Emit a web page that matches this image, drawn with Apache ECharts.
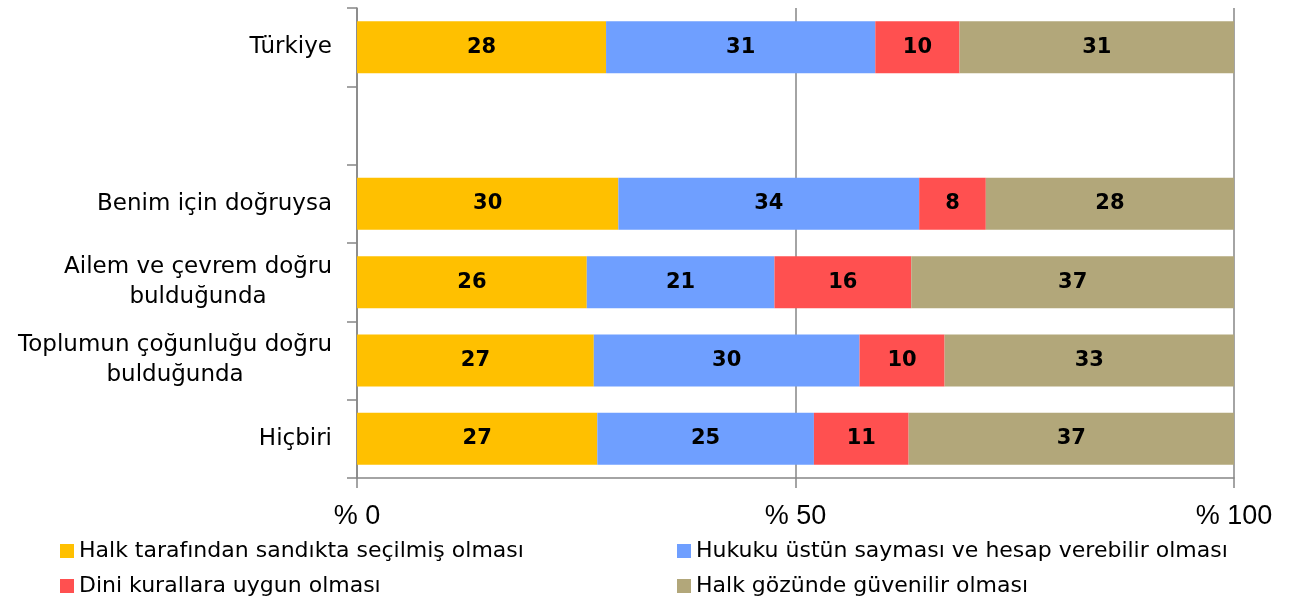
<!DOCTYPE html>
<html>
<head>
<meta charset="utf-8">
<script src="https://cdn.jsdelivr.net/npm/echarts@6/dist/echarts.min.js"></script>
<style>
  html, body { margin: 0; padding: 0; background: #fff; }
  #chart { width: 1292px; height: 601px; }
</style>
</head>
<body>
<div id="chart"></div>
<script>
// kategoriler (yukarıdan aşağıya), ikinci satır boş
const categories = ['Türkiye', '', 'Benim için doğruysa', 'Ailem ve çevrem doğru\nbulduğunda', 'Toplumun çoğunluğu doğru\nbulduğunda', 'Hiçbiri'];
const seriesNames = [
  'Halk tarafından sandıkta seçilmiş olması',
  'Hukuku üstün sayması ve hesap verebilir olması',
  'Dini kurallara uygun olması',
  'Halk gözünde güvenilir olması'
];
const secilmis = [28.4, null, 29.8, 26.2, 27.0, 27.4];
const hukuk    = [30.7, null, 34.3, 21.4, 30.3, 24.7];
const dini     = [9.6,  null, 7.6,  15.6, 9.7,  10.8];
const guven    = [31.3, null, 28.3, 36.8, 33.0, 37.1];
const xTicks = [0, 50, 100];

const colors = ['#FFC000', '#6F9FFF', '#FF5050', '#B2A77A'];
const font = '"DejaVu Sans", sans-serif';
const axisFont = '"Liberation Sans", Arial, sans-serif';

const chart = echarts.init(document.getElementById('chart'));

const mkSeries = (name, data, i) => ({
  name,
  type: 'bar',
  stack: 'total',
  data,
  barWidth: 52,
  itemStyle: { color: colors[i] },
  label: {
    show: true,
    position: 'inside',
    color: '#000',
    fontFamily: font,
    fontWeight: 'bold',
    fontSize: 21,
    formatter: p => p.value == null ? '' : Math.round(p.value)
  }
});

// lejant: 2 sütun, her öğe ayrı konumda
const legendPos = [[55, 535], [672, 535], [55, 570], [672, 570]];
const legends = legendPos.map((pos, i) => ({
  data: [seriesNames[i]],
  left: pos[0], top: pos[1],
  itemWidth: 14, itemHeight: 14, icon: 'rect',
  textStyle: { fontFamily: font, fontSize: 22, color: '#000' }
}));

chart.setOption({
  animation: false,
  grid: { left: 357, right: 58, top: 8, bottom: 123 },
  legend: legends,
  xAxis: {
    type: 'value',
    min: xTicks[0], max: xTicks[xTicks.length - 1], interval: 50,
    axisLine: { show: true, lineStyle: { color: '#868686', width: 1.5 } },
    axisTick: { show: true, length: 10, lineStyle: { color: '#868686', width: 1.5 } },
    splitLine: { show: true, lineStyle: { color: '#868686', width: 1.5 } },
    axisLabel: {
      formatter: v => '% ' + v, margin: 25,
      fontFamily: axisFont, fontSize: 27, color: '#000'
    }
  },
  yAxis: {
    type: 'category',
    inverse: true,
    data: categories,
    axisLine: { show: true, lineStyle: { color: '#868686', width: 1.5 } },
    axisTick: { show: true, length: 10, lineStyle: { color: '#868686', width: 1.5 } },
    axisLabel: {
      margin: 25, align: 'right',
      fontFamily: font, fontSize: 23, color: '#000', lineHeight: 30,
      formatter: v => v.split('\n').map(s => '{c|' + s + '}').join('\n'),
      rich: { c: { align: 'center', fontFamily: font, fontSize: 23, lineHeight: 30 } }
    }
  },
  series: [
    mkSeries(seriesNames[0], secilmis, 0),
    mkSeries(seriesNames[1], hukuk, 1),
    mkSeries(seriesNames[2], dini, 2),
    mkSeries(seriesNames[3], guven, 3)
  ]
});
</script>
</body>
</html>
